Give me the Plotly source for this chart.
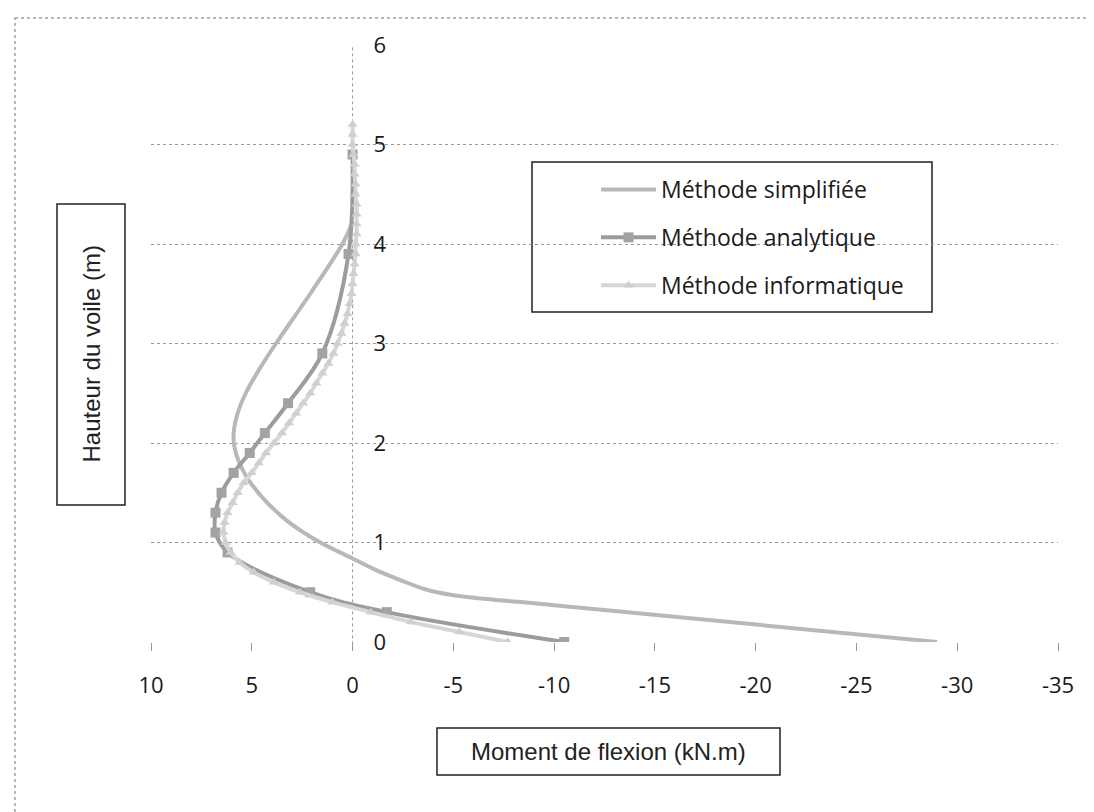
import plotly.graph_objects as go

# ---- data ----
simp_x = [-29.0, -10.0, -5.0, -3.6, -2.4, -1.2, 0.0, 1.6, 3.2, 4.55, 5.4, 5.85, 5.9, 5.7, 5.3, 4.6, 3.8, 2.1, 0.5, 0.0]
simp_y = [0.0, 0.37, 0.47, 0.53, 0.62, 0.72, 0.84, 1.0, 1.21, 1.47, 1.71, 1.95, 2.1, 2.3, 2.5, 2.75, 3.0, 3.5, 4.0, 4.22]

ana_x = [-10.5, -1.7, 2.1, 6.2, 6.8, 6.8, 6.5, 5.9, 5.1, 4.35, 3.2, 1.5, 0.2, 0.0]
ana_y = [0.0, 0.3, 0.5, 0.9, 1.1, 1.3, 1.5, 1.7, 1.9, 2.1, 2.4, 2.9, 3.9, 4.9]

info_y = [0.0, 0.1, 0.2, 0.3, 0.4, 0.5, 0.6, 0.7, 0.8, 0.9,
          1.0, 1.1, 1.2, 1.3, 1.4, 1.5, 1.6, 1.7, 1.8, 1.9,
          2.0, 2.1, 2.2, 2.3, 2.4, 2.5, 2.6, 2.7, 2.8, 2.9,
          3.0, 3.1, 3.2, 3.3, 3.4, 3.5, 3.6, 3.7, 3.8, 3.9,
          4.0, 4.1, 4.2, 4.3, 4.4, 4.5, 4.6, 4.7, 4.8, 4.9,
          5.0, 5.1, 5.2]
info_x = [-7.7, -5.3, -2.9, -0.9, 1.0, 2.6, 3.9, 4.9, 5.6, 6.05,
          6.3, 6.4, 6.35, 6.2, 5.95, 5.7, 5.4, 5.0, 4.65, 4.3,
          3.9, 3.5, 3.15, 2.8, 2.45, 2.1, 1.8, 1.5, 1.2, 0.95,
          0.75, 0.55, 0.4, 0.25, 0.15, 0.05, 0.0, -0.05, -0.1, -0.15,
          -0.15, -0.2, -0.2, -0.2, -0.2, -0.15, -0.15, -0.1, -0.1, -0.05,
          0.0, 0.0, 0.0]

x_ticks = [10, 5, 0, -5, -10, -15, -20, -25, -30, -35]
y_ticks = [0, 1, 2, 3, 4, 5, 6]

names = ["Méthode simplifiée", "Méthode analytique", "Méthode informatique"]
x_title = "Moment de flexion (kN.m)"
y_title = "Hauteur du voile (m)"

# ---- layout geometry (pixels) ----
W_FIG, H_FIG = 1094, 812
L, R, T, B = 143, 44, 37, 178
PW = W_FIG - L - R
PH = H_FIG - T - B


def px(xp):
    return (xp - L) / PW


def py(yp):
    return (H_FIG - B - yp) / PH


fig = go.Figure()
fig.add_trace(go.Scatter(
    x=simp_x, y=simp_y, name=names[0], mode="lines", legendgroup="a",
    line=dict(color="#b8b8b8", width=4, shape="spline", smoothing=0.8),
))
fig.add_trace(go.Scatter(
    x=ana_x, y=ana_y, name=names[1], mode="lines+markers", legendgroup="b",
    line=dict(color="#9c9c9c", width=4, shape="spline", smoothing=1.0),
    marker=dict(symbol="square", size=10, color="#a3a3a3"),
))
fig.add_trace(go.Scatter(
    x=info_x, y=info_y, name=names[2], mode="lines+markers", legendgroup="c",
    line=dict(color="#d6d6d6", width=4, shape="spline", smoothing=0.6),
    marker=dict(symbol="triangle-up", size=9, color="#cfcfcf"),
))

grid_col = "#9a9a9a"
shapes = [
    # vertical axis line at x = 0 (dotted)
    dict(type="line", xref="x", yref="paper", x0=0, x1=0, y0=-0.014, y1=1,
         line=dict(color=grid_col, width=1, dash="dot"), layer="below"),
    # outer chart border
    dict(type="rect", xref="paper", yref="paper", x0=px(7), x1=px(1090), y0=py(10), y1=py(830),
         line=dict(color="#a0a0a0", width=1.5, dash="dot"), layer="below"),
    # legend box
    dict(type="rect", xref="paper", yref="paper", x0=px(524), x1=px(924), y0=py(154), y1=py(304),
         line=dict(color="#222222", width=1.5), fillcolor="white", layer="below"),
    # x title box
    dict(type="rect", xref="paper", yref="paper", x0=px(429), x1=px(772), y0=py(720), y1=py(767),
         line=dict(color="#222222", width=1.5), layer="above"),
    # y title box
    dict(type="rect", xref="paper", yref="paper", x0=px(49), x1=px(117), y0=py(196), y1=py(497),
         line=dict(color="#222222", width=1.5), layer="above"),
]

annotations = [
    dict(text=x_title, xref="paper", yref="paper", x=px(600.5), y=py(743.5),
         xanchor="center", yanchor="middle", showarrow=False,
         font=dict(family="Liberation Sans, Arial", size=24, color="#222222")),
    dict(text=y_title, xref="paper", yref="paper", x=px(83), y=py(346.5),
         xanchor="center", yanchor="middle", showarrow=False, textangle=-90,
         font=dict(family="Liberation Sans, Arial", size=24, color="#222222")),
]

fig.update_layout(
    width=W_FIG, height=H_FIG,
    margin=dict(l=L, r=R, t=T, b=B, pad=0),
    paper_bgcolor="white", plot_bgcolor="white",
    showlegend=True,
    legend=dict(
        x=px(588), y=py(160), xanchor="left", yanchor="top",
        bgcolor="rgba(0,0,0,0)", borderwidth=0,
        font=dict(family="Open Sans", size=23, color="#1a1a1a"),
        tracegroupgap=15, itemwidth=55,
    ),
    shapes=shapes,
    annotations=annotations,
    xaxis=dict(
        range=[10, -35], tickvals=x_ticks, ticktext=[str(v) for v in x_ticks],
        showgrid=False, zeroline=False, showline=False,
        ticks="outside", ticklen=8, tickwidth=1, tickcolor=grid_col,
        ticklabelstandoff=16,
        tickfont=dict(family="Open Sans", size=22, color="#1a1a1a"),
    ),
    yaxis=dict(
        range=[0, 6], tickvals=y_ticks, ticktext=[str(v) for v in y_ticks],
        anchor="free", position=(10 - 0) / 45, side="right",
        showgrid=True, gridcolor=grid_col, griddash="dot", gridwidth=1,
        zeroline=False, showline=False, ticks="",
        ticklabelstandoff=20,
        tickfont=dict(family="Open Sans", size=22, color="#1a1a1a"),
    ),
)

fig.write_html("out.html")
